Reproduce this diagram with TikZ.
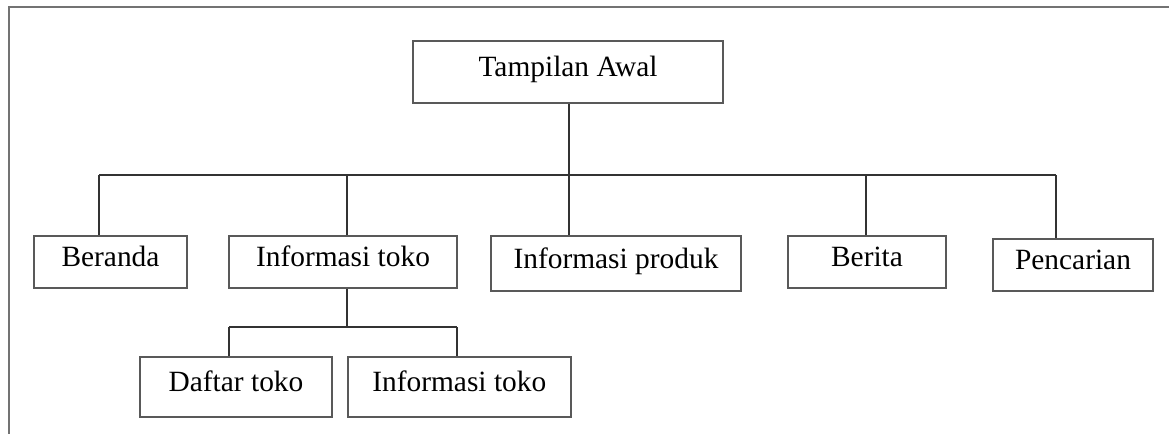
\documentclass[tikz,border=0pt]{standalone}
\usepackage{fontspec}
\setmainfont{Liberation Serif}
\usetikzlibrary{positioning}

\begin{document}
\begin{tikzpicture}[
  x=1pt, y=-1pt,
  box/.style={draw=black!65, line width=1.8pt, rectangle, inner sep=0pt,
    font=\fontsize{29.4}{34}\selectfont, text height=20pt, text depth=11pt},
  link/.style={draw=black!80, line width=1.4pt}
]
\useasboundingbox (0,0) rectangle (1169,434);

% Frame (only top and left edges show)
\draw[draw=black!55, line width=2pt] (1169,6.5) -- (9,6.5) -- (9,434);

% Nodes (top to bottom)
\node[box, minimum width=310pt, minimum height=62pt] (awal) at (568,72) {Tampilan Awal};

\node[box, minimum width=153pt, minimum height=52pt] (beranda) at (110.5,262) {Beranda};
\node[box, minimum width=228pt, minimum height=52pt] (toko) at (343,262) {Informasi toko};
\node[box, minimum width=250pt, minimum height=55pt] (produk) at (616,263.5) {Informasi produk};
\node[box, minimum width=158pt, minimum height=52pt] (berita) at (867,262) {Berita};
\node[box, minimum width=160pt, minimum height=52pt] (cari) at (1073,265) {Pencarian};

\node[box, minimum width=192pt, minimum height=60pt] (daftar) at (236,387) {Daftar toko};
\node[box, minimum width=223pt, minimum height=60pt, right=14pt of daftar] (tokoinfo) {Informasi toko};

% Bus points
\coordinate (busL) at (99,175);
\coordinate (busR) at (1056,175);
\coordinate (dToko) at (347,175);
\coordinate (dProduk) at (569,175);
\coordinate (dBerita) at (866,175);
\coordinate (subL) at (229,327);
\coordinate (subR) at (457,327);

% Draw the tree lines
\draw[link] (busL) -- (busR);
\draw[link] (awal.south -| dProduk) -- (dProduk);
\draw[link] (busL) -- (busL |- beranda.north);
\draw[link] (dToko) -- (dToko |- toko.north);
\draw[link] (dProduk) -- (dProduk |- produk.north);
\draw[link] (dBerita) -- (dBerita |- berita.north);
\draw[link] (busR) -- (busR |- cari.north);

\draw[link] (toko.south -| dToko) -- (dToko |- subL);
\draw[link] (subL) -- (subR);
\draw[link] (subL) -- (subL |- daftar.north);
\draw[link] (subR) -- (subR |- tokoinfo.north);

\end{tikzpicture}
\end{document}
